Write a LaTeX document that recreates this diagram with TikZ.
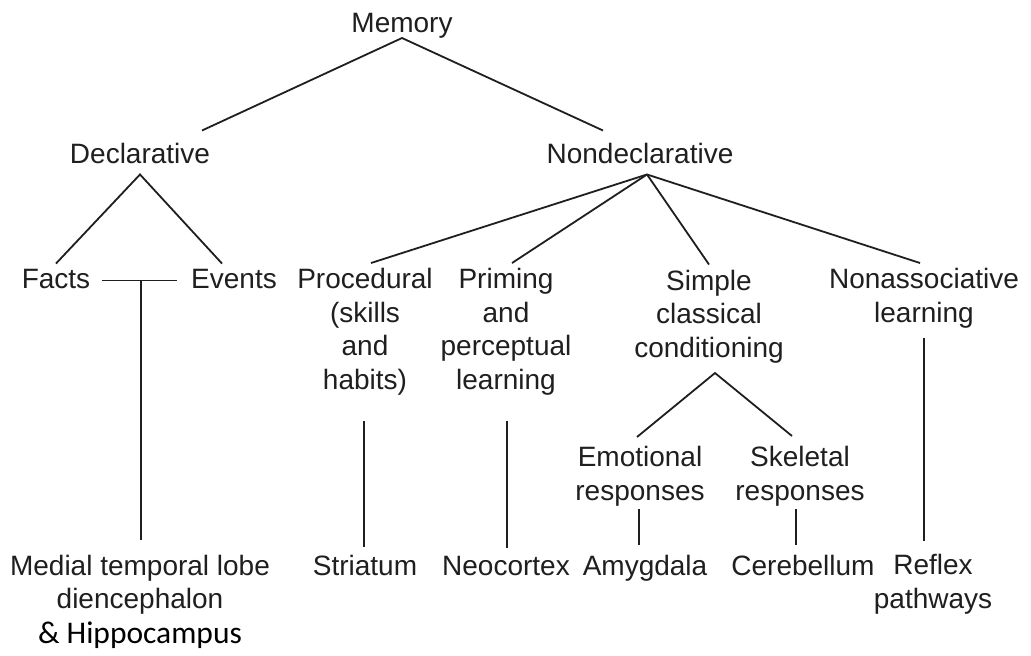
\documentclass[tikz,border=0pt]{standalone}
\usepackage{fontspec}
\usepackage{tikz}
\usetikzlibrary{calc}
\newfontfamily\labelfont{Liberation Sans}
\newfontfamily\hippofont{Carlito}
\definecolor{ink}{RGB}{32,30,30}

\begin{document}
\begin{tikzpicture}[x=1pt,y=-1pt,
    lbl/.style={inner sep=0pt, anchor=base, align=center, text=ink,
      font=\labelfont\fontsize{28}{33.5}\selectfont},
    branch/.style={draw=ink, line width=1.8pt}]
  \useasboundingbox[fill=white] (0,0) rectangle (1031,656);

  % top levels (nodes sit on the baseline of their last line)
  \node[lbl] (mem) at (402,32) {Memory};
  \node[lbl] (decl) at (140,163) {Declarative};
  \node[lbl] (nondecl) at (640,163) {Nondeclarative};

  % memory types
  \node[lbl] (facts) at (56,288) {Facts};
  \node[lbl] (events) at (234,288) {Events};
  \node[lbl] (proc) at (365,389) {Procedural\\(skills\\and\\habits)};
  \node[lbl] (prim) at (506,389) {Priming\\and\\perceptual\\learning};
  \node[lbl] (simple) at (709,357) {Simple\\classical\\conditioning};
  \node[lbl] (nonassoc) at (924,322) {Nonassociative\\learning};
  \node[lbl] (emot) at (640,500) {Emotional\\responses};
  \node[lbl] (skel) at (800,500) {Skeletal\\responses};

  % brain structures
  \node[lbl] (mtl) at (140,643) {Medial temporal lobe\\diencephalon\\[1pt]
    {\hippofont\fontsize{31.5}{35}\selectfont\color{black}\& Hippocampus}};
  \node[lbl] (striatum) at (365,575) {Striatum};
  \node[lbl] (neo) at (506,575) {Neocortex};
  \node[lbl] (amyg) at (645,575) {Amygdala};
  \node[lbl] (cereb) at (803,575) {Cerebellum};
  \node[lbl] (reflex) at (933,608) {Reflex\\pathways};

  % memory split
  \draw[branch] ([shift={(62,-12)}]decl.north) -- (mem.south) -- ([shift={(-37,-12)}]nondecl.north);

  % declarative
  \draw[branch] ([yshift=5pt]facts.north) -- ([yshift=-11pt]decl.south) -- ([xshift=-12pt,yshift=5pt]events.north);
  \draw[branch] ([xshift=12pt,yshift=-2pt]facts.east) -- ([xshift=-14pt,yshift=-2pt]events.west);
  \coordinate (fe) at ($(facts.east)!.5!(events.west)+(0,2)$);
  \draw[branch] (fe) -- ([yshift=15pt]fe |- mtl.north);

  % nondeclarative
  \coordinate (ndtop) at ([xshift=7pt,yshift=-11pt]nondecl.south);
  \draw[branch] (ndtop) -- ([xshift=6pt,yshift=5pt]proc.north);
  \draw[branch] (ndtop) -- ([xshift=6pt,yshift=5pt]prim.north);
  \draw[branch] (ndtop) -- ([yshift=5pt]simple.north);
  \draw[branch] (ndtop) -- ([xshift=-4pt,yshift=5pt]nonassoc.north);

  \draw[branch] ([xshift=-1pt,yshift=-26pt]proc.south) -- ([xshift=-1pt,yshift=8pt]striatum.north);
  \draw[branch] ([xshift=1pt,yshift=-26pt]prim.south) -- ([xshift=1pt,yshift=8pt]neo.north);

  % conditioning
  \draw[branch] ([xshift=-3pt,yshift=9pt]emot.north) -- ([xshift=6pt,yshift=-10pt]simple.south) -- ([xshift=-8pt,yshift=10pt]skel.north);
  \draw[branch] ([xshift=-1pt,yshift=-3pt]emot.south) -- ([xshift=-1pt,yshift=10pt]emot.south |- amyg.north);
  \draw[branch] ([xshift=-4pt,yshift=-3pt]skel.south) -- ([xshift=-4pt,yshift=10pt]skel.south |- cereb.north);
  \draw[branch] ([yshift=-10pt]nonassoc.south) -- ([yshift=13pt]nonassoc.south |- reflex.north);
\end{tikzpicture}
\end{document}
